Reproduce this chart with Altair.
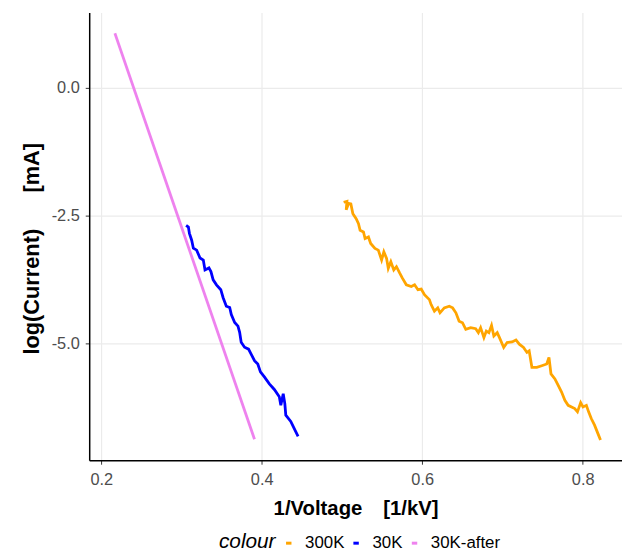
import altair as alt
import pandas as pd

# 300K series (orange)
x_300 = [0.5021, 0.5062, 0.5053, 0.5083, 0.5111, 0.5136, 0.5177, 0.5206, 0.5226, 0.5268,
         0.5288, 0.5330, 0.5358, 0.5411, 0.5453, 0.5494, 0.5522, 0.5556, 0.5577, 0.5609,
         0.5646, 0.5679, 0.5720, 0.5753, 0.5802, 0.5864, 0.5905, 0.5947, 0.5988, 0.6028,
         0.6090, 0.6111, 0.6152, 0.6194, 0.6222, 0.6275, 0.6337, 0.6379, 0.6420, 0.6460,
         0.6502, 0.6543, 0.6605, 0.6667, 0.6700, 0.6728, 0.6769, 0.6799, 0.6831, 0.6864,
         0.6893, 0.6935, 0.6963, 0.7016, 0.7058, 0.7120, 0.7169, 0.7210, 0.7263, 0.7305,
         0.7333, 0.7367, 0.7428, 0.7490, 0.7552, 0.7580, 0.7605, 0.7654, 0.7695, 0.7737,
         0.7778, 0.7819, 0.7901, 0.7935, 0.7975, 0.8004, 0.8046, 0.8074, 0.8107, 0.8148,
         0.8189, 0.8222]
y_300 = [-2.242, -2.223, -2.390, -2.262, -2.273, -2.467, -2.564, -2.661, -2.791, -2.824,
         -2.952, -2.921, -3.048, -3.145, -3.178, -3.372, -3.211, -3.339, -3.533, -3.405,
         -3.566, -3.502, -3.630, -3.727, -3.857, -3.890, -3.857, -3.953, -3.940, -4.050,
         -4.147, -4.244, -4.374, -4.308, -4.405, -4.308, -4.277, -4.308, -4.405, -4.568,
         -4.599, -4.729, -4.696, -4.715, -4.793, -4.696, -4.890, -4.762, -4.793, -4.651,
         -4.858, -4.793, -4.890, -5.083, -4.987, -4.975, -4.936, -5.019, -5.083, -5.180,
         -5.149, -5.471, -5.471, -5.440, -5.407, -5.277, -5.601, -5.698, -5.827, -5.955,
         -6.118, -6.215, -6.279, -6.343, -6.163, -6.246, -6.215, -6.343, -6.473, -6.603,
         -6.764, -6.893]

# 30K series (blue)
x_30 = [0.3058, 0.3086, 0.3099, 0.3127, 0.3148, 0.3189, 0.3231, 0.3272, 0.3293, 0.3342,
        0.3367, 0.3395, 0.3436, 0.3490, 0.3519, 0.3559, 0.3601, 0.3621, 0.3663, 0.3704,
        0.3725, 0.3744, 0.3786, 0.3836, 0.3868, 0.3910, 0.3951, 0.3984, 0.4033, 0.4095,
        0.4157, 0.4219, 0.4238, 0.4268, 0.4288, 0.4300, 0.4362, 0.4404, 0.4453]
y_30 = [-2.694, -2.727, -2.849, -2.984, -3.140, -3.178, -3.333, -3.372, -3.566, -3.527,
        -3.599, -3.760, -3.857, -3.953, -4.109, -4.277, -4.302, -4.438, -4.593, -4.665,
        -4.787, -4.981, -5.078, -5.116, -5.213, -5.343, -5.407, -5.562, -5.659, -5.795,
        -5.905, -6.047, -6.215, -5.988, -6.182, -6.409, -6.531, -6.667, -6.822]

# 30K-after series (violet)
x_after = [0.217, 0.391]
y_after = [1.066, -6.88]

groups = ["300K", "30K", "30K-after"]
colors = ["#FFA500", "#0000FF", "#EE82EE"]

rows = []
for name, xs, ys in [("300K", x_300, y_300), ("30K", x_30, y_30), ("30K-after", x_after, y_after)]:
    for i, (a, b) in enumerate(zip(xs, ys)):
        rows.append({"inv_v": a, "logi": b, "colour": name, "i": i})
df = pd.DataFrame(rows)

NB = "\u00a0"

chart = alt.Chart(df).mark_line(strokeWidth=2.8).encode(
    x=alt.X("inv_v:Q",
            scale=alt.Scale(domain=[0.185, 0.849], nice=False, zero=False),
            axis=alt.Axis(values=[0.2, 0.4, 0.6, 0.8], format=".1f",
                          title="1/Voltage" + NB * 3 + "\u2009[1/kV]")),
    y=alt.Y("logi:Q",
            scale=alt.Scale(domain=[-7.29, 1.47], nice=False, zero=False),
            axis=alt.Axis(values=[0.0, -2.5, -5.0],
                          labelExpr="replace(format(datum.value, '.1f'), '\u2212', '-')",
                          title="log(Current)" + NB * 6 + "[mA]",
                          titleFontSize=22, titleX=-46, titleY=238,
                          titleAlign="center", titleAngle=270,
                          titleBaseline="bottom")),
    color=alt.Color("colour:N",
                    scale=alt.Scale(domain=groups, range=colors),
                    legend=alt.Legend(orient="none", legendX=131, legendY=527,
                                      direction="horizontal", titleOrient="left",
                                      symbolType="stroke", symbolSize=30,
                                      symbolStrokeWidth=3, labelOffset=8,
                                      columnPadding=2, titlePadding=4)),
    order="i:Q",
).properties(
    width=538, height=452,
    autosize=alt.AutoSizeParams(type="none"),
    padding={"left": 82, "top": 2, "right": 0, "bottom": 90},
).configure_view(stroke=None).configure_axis(
    labelFont="Liberation Sans", titleFont="Liberation Sans",
    labelFontSize=16.5, labelColor="#4d4d4d",
    titleFontSize=20.5, titleFontWeight="bold", titleColor="black",
    gridColor="#ebebeb", gridWidth=1.2,
    domainColor="black", domainWidth=1.5,
    tickColor="#333333", tickSize=4,
).configure_axisX(
    labelPadding=7, titlePadding=11,
).configure_axisY(
    labelPadding=6,
).configure_legend(
    titleFont="Liberation Sans", labelFont="Liberation Sans",
    titleFontSize=21, titleFontStyle="italic", titleFontWeight="normal",
    titleColor="black", labelFontSize=17, labelColor="black",
)

chart.save("out.html", embed_options={"renderer": "svg", "actions": False})
